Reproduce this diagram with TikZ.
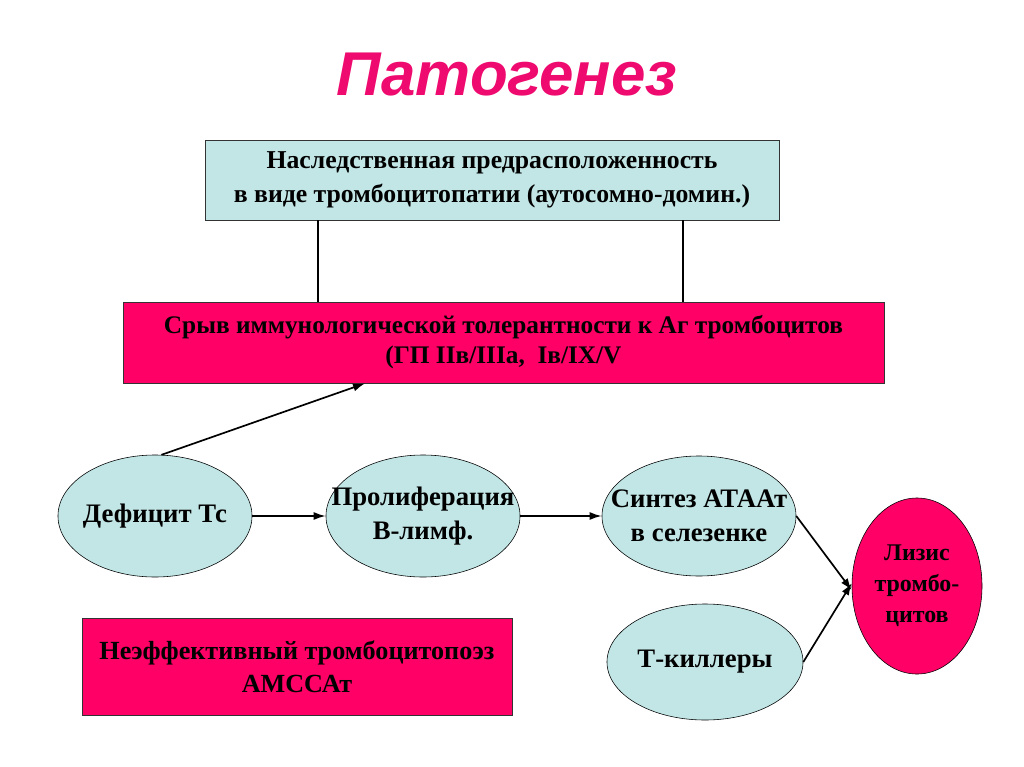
\documentclass[tikz,border=0pt]{standalone}
\usepackage{fontspec}
\setmainfont{Liberation Serif}
\newfontfamily\titlefont{Liberation Sans}
\usetikzlibrary{arrows.meta,shapes.geometric}
\definecolor{patpink}{HTML}{FF0066}
\definecolor{patblue}{HTML}{C2E5E5}
\definecolor{titlepink}{HTML}{EE0A6E}
\tikzset{
    bluebox/.style={rectangle,draw=black!80,fill=patblue,align=center,inner sep=0pt,font=\bfseries\fontsize{18.3}{24}\selectfont},
    pinkbox/.style={rectangle,draw=black!80,fill=patpink,align=center,inner sep=0pt,font=\bfseries\fontsize{18}{21.5}\selectfont},
    blueoval/.style={ellipse,draw,fill=patblue,inner sep=-1cm,align=center,font=\bfseries\fontsize{19}{24}\selectfont},
    pinkoval/.style={ellipse,draw,fill=patpink,inner sep=-1cm,align=center,font=\bfseries\fontsize{17}{22}\selectfont},
    flowline/.style={-{Latex[length=3mm,width=2mm]},line width=1.2pt},
    joinline/.style={line width=1pt}
}
\begin{document}
\begin{tikzpicture}[x=0.025cm,y=-0.025cm]
    \useasboundingbox (0,0) rectangle (1024,767);
    \node[font=\titlefont\bfseries\itshape\fontsize{44}{52}\selectfont,text=titlepink] (title) at (507,75) {Патогенез};
    \node[bluebox,minimum width=14.35cm,minimum height=2cm] (nasl) at (492,180) {Наследственная предрасположенность\\в виде тромбоцитопатии (аутосомно-домин.)};
    \node[pinkbox,minimum width=19.03cm,minimum height=2.03cm] (sryv) at (503.5,342.5) {Срыв иммунологической толерантности к Аг тромбоцитов\\(ГП IIв/IIIа,\ \ Iв/IX/V};
    \node[blueoval,minimum width=4.85cm,minimum height=3.05cm] (defic) at (155,516) {Дефицит Тс};
    \node[blueoval,minimum width=4.85cm,minimum height=3.05cm] (prolif) at (423,516) {Пролиферация\\В-лимф.};
    \node[blueoval,minimum width=4.85cm,minimum height=3cm] (sintez) at (699,516) {Синтез АТААт\\в селезенке};
    \node[blueoval,minimum width=4.9cm,minimum height=2.9cm] (tkill) at (705,662) {Т-киллеры};
    \node[pinkoval,minimum width=3.25cm,minimum height=4.4cm] (lizis) at (917,586) {Лизис\\тромбо-\\цитов};
    \node[pinkbox,font=\bfseries\fontsize{18.6}{23.5}\selectfont,minimum width=10.75cm,minimum height=2.43cm] (neef) at (297,666.5) {Неэффективный тромбоцитопоэз\\АМССАт};
    % links
    \draw[joinline] (nasl.south -| 318,0) -- (sryv.north -| 318,0);
    \draw[joinline] (nasl.south -| 683,0) -- (sryv.north -| 683,0);
    \draw[flowline] (defic.84) -- (sryv.south -| 365,0);
    \draw[flowline] (defic.east) -- (prolif.west);
    \draw[flowline] (prolif.east) -- (sintez.west);
    \draw[flowline] (sintez.east) -- ([yshift=-3pt]lizis.west);
    \draw[flowline] (tkill.east) -- ([yshift=2pt]lizis.west);
\end{tikzpicture}
\end{document}
